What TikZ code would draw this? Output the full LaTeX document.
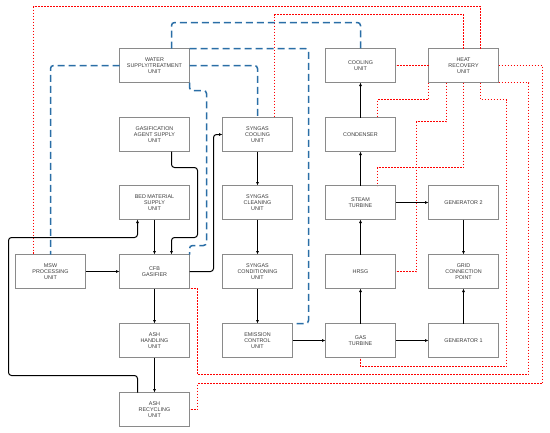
\documentclass[tikz,border=0pt]{standalone}
\usepackage[dvipsnames]{xcolor}
\usepackage{fontspec}
\setmainfont{Liberation Sans}
\usepackage{tikz}
\usetikzlibrary{arrows.meta}

\definecolor{cajagris}{HTML}{8A8A8A}
\definecolor{textogris}{HTML}{3C3C3C}
\definecolor{agua}{HTML}{2A6EA6}
\definecolor{calor}{HTML}{FF0000}

\begin{document}
\begin{tikzpicture}[x=1pt, y=-1pt,
        unit/.style={draw=cajagris, line width=1pt, fill=white, minimum width=70pt,
            minimum height=34pt, inner sep=1pt, outer sep=0pt, align=center, text=textogris,
            font=\fontsize{5.4}{6}\selectfont},
        flow/.style={line width=1pt, rounded corners=3pt, -{Latex[length=3.5pt,width=3pt]}},
        water/.style={draw=agua, line width=1.5pt, dash pattern=on 7pt off 4pt, rounded corners=3pt},
        heat/.style={draw=calor, line width=1.4pt, dash pattern=on 1.3pt off 1.7pt}]
        \useasboundingbox (0,0) rectangle (550,432);
        % unidades
        \node[unit] (water) at (154.5,65.5) {WATER\\SUPPLY/TREATMENT\\UNIT};
        \node[unit] (agent) at (154.5,134.5) {GASIFICATION\\AGENT SUPPLY\\UNIT};
        \node[unit] (bed) at (154.5,202.5) {BED MATERIAL\\SUPPLY\\UNIT};
        \node[unit] (cfb) at (154.5,271.5) {CFB\\GASIFIER};
        \node[unit] (ashh) at (154.5,340.5) {ASH\\HANDLING\\UNIT};
        \node[unit] (ashr) at (154.5,409.5) {ASH\\RECYCLING\\UNIT};
        \node[unit] (msw) at (50.5,271.5) {MSW\\PROCESSING\\UNIT};
        \node[unit] (cooling) at (257.5,134.5) {SYNGAS\\COOLING\\UNIT};
        \node[unit] (cleaning) at (257.5,202.5) {SYNGAS\\CLEANING\\UNIT};
        \node[unit] (conditioning) at (257.5,271.5) {SYNGAS\\CONDITIONING\\UNIT};
        \node[unit] (emission) at (257.5,340.5) {EMISSION\\CONTROL\\UNIT};
        \node[unit] (coolu) at (360.5,65.5) {COOLING\\UNIT};
        \node[unit] (condenser) at (360.5,134.5) {CONDENSER};
        \node[unit] (steam) at (360.5,202.5) {STEAM\\TURBINE};
        \node[unit] (hrsg) at (360.5,271.5) {HRSG};
        \node[unit] (gasturb) at (360.5,340.5) {GAS\\TURBINE};
        \node[unit] (heat) at (463.5,65.5) {HEAT\\RECOVERY\\UNIT};
        \node[unit] (gen2) at (463.5,202.5) {GENERATOR 2};
        \node[unit] (grid) at (463.5,271.5) {GRID\\CONNECTION\\POINT};
        \node[unit] (gen1) at (463.5,340.5) {GENERATOR 1};
        % recuperacion de calor (punteado)
        \draw[heat] (heat.west) -- (coolu.east);
        \draw[heat] ([xshift=17pt]heat.north) -- ++(0,-42) -| ([xshift=-17pt]msw.north);
        \draw[heat] (heat.north) -- ++(0,-34) -| ([xshift=17pt]cooling.north);
        \draw[heat] (heat.south west) -- ++(0,17) -| ([xshift=17pt]condenser.north);
        \draw[heat] ([xshift=-17pt]heat.south) -- ++(0,39) -| ++(-30,150) -- (hrsg.east);
        \draw[heat] (heat.south) -- ++(0,85) -| ([xshift=17pt]steam.north);
        \draw[heat] ([xshift=17pt]heat.south) -- ++(0,17) -| ++(26,267) -| (gasturb.south);
        \draw[heat] (heat.south east) -- ++(30,0) -- ++(0,292) -- ++(-331,0) |- (cfb.south east);
        \draw[heat] (heat.east) -- ++(44,0) -- ++(0,318) -- ++(-345,0) |- (ashr.east);
        % agua (discontinuo)
        \draw[water] ([xshift=17pt]water.north) -- ++(0,-26) -| (coolu.north);
        \draw[water] (water.north east) -- ++(119,0) |- (emission.north east);
        \draw[water] (water.east) -| (cooling.north);
        \draw[water] (water.west) -| (msw.north);
        \draw[water] (water.south east) -- ++(0,8) -| ++(17,155) -| (cfb.north east);
        % flujo principal
        \draw[flow] (msw) -- (cfb);
        \draw[flow] (bed) -- (cfb);
        \draw[flow] ([xshift=17pt]agent.south) -- ++(0,16) -- ++(26,0) -- ++(0,70) -| ([xshift=17pt]cfb.north);
        \draw[flow] (cfb.east) -- ++(24,0) |- (cooling.west);
        \draw[flow] (cooling) -- (cleaning);
        \draw[flow] (cleaning) -- (conditioning);
        \draw[flow] (conditioning) -- (emission);
        \draw[flow] (emission) -- (gasturb);
        \draw[flow] (gasturb) -- (hrsg);
        \draw[flow] (hrsg) -- (steam);
        \draw[flow] (steam) -- (condenser);
        \draw[flow] (condenser) -- (coolu);
        \draw[flow] (steam) -- (gen2);
        \draw[flow] (gasturb) -- (gen1);
        \draw[flow] (gen2) -- (grid);
        \draw[flow] (gen1) -- (grid);
        \draw[flow] (cfb) -- (ashh);
        \draw[flow] (ashh) -- (ashr);
        % reciclado de cenizas
        \draw[flow] ([xshift=-17pt]ashr.north) -- ++(0,-17) -| ++(-129,-138) -| ([xshift=-17pt]bed.south);
    \end{tikzpicture}
\end{document}
